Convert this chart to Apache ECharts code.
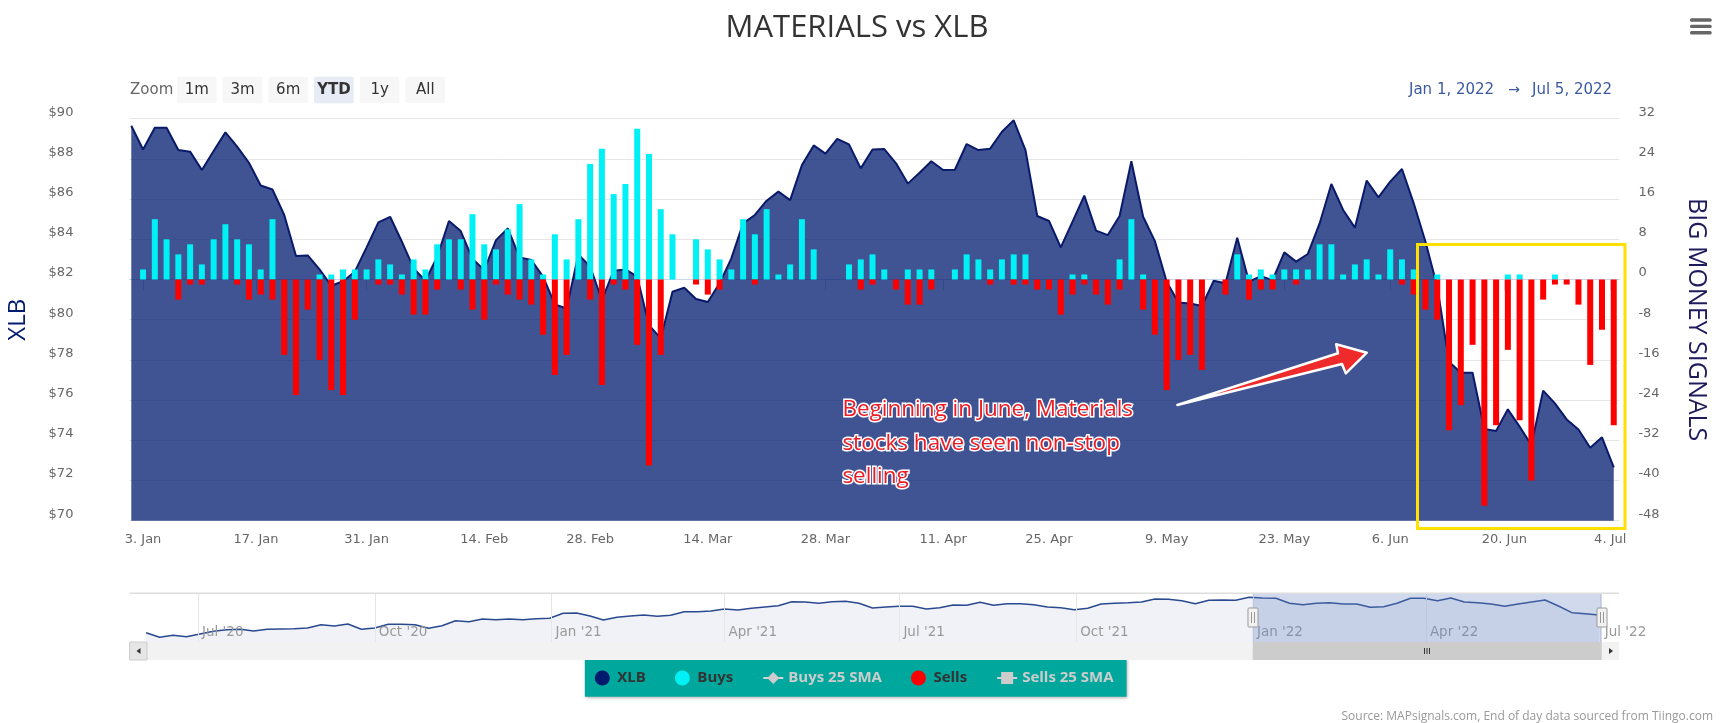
<!doctype html>
<html>
<head>
<meta charset="utf-8">
<title>MATERIALS vs XLB</title>
<script src="https://cdn.jsdelivr.net/npm/echarts@6/dist/echarts.min.js"></script>
<style>html,body{margin:0;padding:0;background:#fff}</style>
</head>
<body>
<div id="main" style="width:1720px;height:723px;"></div>
<script>
// trading day 0 is Dec 31, the last one is Jul 5
var xlb = [
  89.65,88.47,89.55,89.55,88.44,88.36,87.45,88.39,89.32,88.61,
  87.81,86.68,86.48,85.21,83.17,83.20,82.50,81.69,81.91,82.39,
  83.60,84.84,85.12,83.88,82.55,81.94,83.13,84.91,84.41,83.02,
  82.47,83.96,84.54,83.10,82.97,82.14,80.76,80.56,83.25,82.64,
  80.98,82.44,82.50,82.14,79.73,79.07,81.39,81.59,81.03,80.88,
  81.81,83.05,84.79,85.21,85.92,86.37,85.95,87.69,88.67,88.26,
  89.00,88.72,87.53,88.47,88.49,87.78,86.77,87.31,87.88,87.45,
  87.46,88.74,88.44,88.51,89.35,89.92,88.44,85.16,84.91,83.60,
  84.88,86.17,84.43,84.21,85.16,87.89,85.12,83.91,81.89,80.85,
  80.81,80.68,81.94,81.81,84.08,81.89,82.17,81.97,83.35,82.89,
  83.27,84.79,86.75,85.46,84.58,86.92,86.09,86.87,87.50,85.79,
  83.88,81.64,77.91,77.36,77.36,74.56,74.46,75.54,74.68,73.77,
  76.47,75.84,75.04,74.54,73.63,74.15,72.65
];
var buys = [
  0,2,12,8,5,7,3,8,11,8,
  7,2,12,0,0,0,1,1,2,2,
  2,4,3,1,4,2,7,8,8,13,
  7,6,10,15,4,1,9,4,12,23,
  26,17,19,30,25,14,9,0,8,6,
  4,2,12,9,14,1,3,12,6,0,
  0,3,4,5,2,0,2,2,2,0,
  2,5,4,2,4,5,5,0,0,0,
  1,1,0,0,4,12,1,0,0,0,
  0,0,0,0,5,1,2,1,2,2,
  2,7,7,1,3,4,1,6,4,2,
  0,1,0,0,0,0,0,1,1,0,
  0,1,0,0,0,0,0
];
var sells = [
  0,0,0,0,-4,-1,-1,0,0,-1,
  -4,-3,-4,-15,-23,-6,-16,-22,-23,-8,
  0,-1,-1,-3,-7,-7,-2,0,-2,-6,
  -8,-1,-3,-4,-5,-11,-19,-15,0,-4,
  -21,-1,-2,-13,-37,-15,0,0,-1,-3,
  -2,0,0,-1,0,0,0,0,0,0,
  0,0,-2,-1,0,-2,-5,-5,-2,0,
  0,0,0,-1,0,-1,-1,-2,-2,-7,
  -3,-1,-3,-5,-2,0,-6,-11,-22,-16,
  -15,-18,0,-3,0,-4,-2,-2,0,-1,
  0,0,0,0,0,0,0,0,-1,-3,
  -6,-8,-30,-25,-13,-45,-29,-14,-28,-40,
  -4,-1,-1,-5,-17,-10,-29
];
var xTickDays = [1,10.6,20,30,39,49,59,69,78,88,98,107,116.7,125.7];
var xTickLabels = ['3. Jan','17. Jan','31. Jan','14. Feb','28. Feb','14. Mar','28. Mar','11. Apr','25. Apr','9. May','23. May','6. Jun','20. Jun','4. Jul'];

// navigator: one reading a week from Jun 4 2020
var navPrices = [
  54.3,49.7,51.7,50.3,53.0,55.7,57.3,57.7,56.0,57.7,
  58.0,58.3,59.0,62.3,61.0,63.0,57.7,59.0,62.7,62.7,
  62.3,58.7,61.3,66.3,65.3,68.0,67.3,68.0,67.3,68.3,
  68.7,73.7,74.0,71.0,67.0,69.7,71.0,72.0,70.7,71.7,
  75.3,75.3,76.0,78.0,77.0,78.7,80.0,81.3,85.3,85.0,
  83.7,85.3,85.7,83.7,79.0,80.0,80.7,80.7,78.0,79.3,
  82.0,81.7,84.7,81.7,83.3,83.3,82.3,80.0,79.3,77.3,
  78.7,83.0,83.7,84.3,85.0,88.0,87.7,86.3,83.3,86.7,
  87.0,86.7,89.7,89.0,88.7,83.7,82.3,83.7,84.3,83.0,
  83.0,79.7,80.3,83.7,88.7,88.7,86.3,89.0,85.0,84.3,
  83.0,80.7,83.0,85.0,87.0,81.0,74.3,73.3,72.0
];
var navTickDates = ['2020-07-01','2020-10-01','2021-01-01','2021-04-01','2021-07-01','2021-10-01','2022-01-01','2022-04-01','2022-07-01'];
var navTickLabels = ["Jul '20","Oct '20","Jan '21","Apr '21","Jul '21","Oct '21","Jan '22","Apr '22","Jul '22"];
var rangeButtons = ['1m','3m','6m','YTD','1y','All'];

var FONT = 'DejaVu Sans';
var NAVY = '#001a6e';

var pricePoints = xlb.map(function (v, i) { return [i, v]; });
var buyPoints = buys.map(function (v, i) { return [i, v]; });
var sellPoints = sells.map(function (v, i) { return [i, v]; });

// navigator x axis counts days from its first reading
var navStart = Date.UTC(2020, 5, 4);
function navDay(d) { return (Date.parse(d + 'T00:00:00Z') - navStart) / 86400000; }
var navPoints = navPrices.map(function (v, i) { return [i * 7, v]; });
var navTicks = navTickDates.map(navDay);

function box(x, y, w, h, fill, extra) {
  var el = { type: 'rect', z: 50, shape: { x: x, y: y, width: w, height: h, r: extra && extra.r || 0 }, style: { fill: fill, stroke: extra && extra.stroke, lineWidth: extra && extra.lineWidth }, silent: true };
  return el;
}
function label(x, y, str, font, color, align) {
  return { type: 'text', z: 60, x: x, y: y, silent: true, style: { text: str, font: font, fill: color, textAlign: align || 'left', textVerticalAlign: 'middle' } };
}
function seg(x1, y1, x2, y2, color, w) {
  return { type: 'line', z: 60, silent: true, shape: { x1: x1, y1: y1, x2: x2, y2: y2 }, style: { stroke: color, lineWidth: w || 1 } };
}

var graphics = [];
// zoom buttons
graphics.push(label(130, 90, 'Zoom', '15px ' + FONT, '#666'));
rangeButtons.forEach(function (b, i) {
  var x = 177 + i * 45.7;
  var on = b === 'YTD';
  graphics.push(box(x, 76.7, 39.6, 26.6, on ? '#e6ebf5' : '#f7f7f7', { r: 2 }));
  graphics.push(label(x + 19.8, 90, b, (on ? 'bold ' : '') + '15px ' + FONT, '#333', 'center'));
});
// date range
graphics.push(label(1409, 90, 'Jan 1, 2022', '15px ' + FONT, '#3a5a9f'));
graphics.push(label(1514, 90, '\u2192', '14px ' + FONT, '#3a5a9f', 'center'));
graphics.push(label(1532, 90, 'Jul 5, 2022', '15px ' + FONT, '#3a5a9f'));
// menu icon
[20, 26.4, 32.7].forEach(function (y) {
  graphics.push(box(1690, y - 1.7, 21.7, 3.4, '#666', { r: 1.5 }));
});
// callout
graphics.push(box(1417.5, 244.5, 207.5, 284, 'none', { stroke: '#ffe000', lineWidth: 3 }));
graphics.push({
  type: 'polygon', z: 60, silent: true,
  shape: { points: [[1177.4, 405], [1338, 353.3], [1336.2, 344.3], [1366.8, 352.7], [1345.8, 373.3], [1342, 364]] },
  style: { fill: '#ee2a2a', stroke: '#fff', lineWidth: 2.5, lineJoin: 'round' }
});
['Beginning in June, Materials', 'stocks have seen non-stop', 'selling'].forEach(function (t, i) {
  graphics.push({
    type: 'text', z: 60, x: 842.4, y: 410 + i * 33.4, silent: true,
    style: { text: t, font: '22.5px "Open Sans"', fill: '#ed1c24', stroke: '#fff', lineWidth: 3, strokeFirst: true, textVerticalAlign: 'middle' }
  });
});
// navigator frame, selection and scrollbar
graphics.push(seg(129.6, 593.3, 1619, 593.3, '#dedede', 1.5));
graphics.push(box(1252.7, 594, 349.3, 48, 'rgba(102,133,194,0.3)'));
graphics.push(box(129.6, 642, 1489.4, 18, '#f2f2f2'));
graphics.push(box(129.6, 642, 17.4, 18, '#e6e6e6', { stroke: '#ccc', lineWidth: 1 }));
graphics.push({ type: 'polygon', z: 60, silent: true, shape: { points: [[140.5, 648], [140.5, 654], [136.5, 651]] }, style: { fill: '#333' } });
graphics.push(box(1252.7, 642, 349, 18, '#cccccc'));
graphics.push({ type: 'polygon', z: 60, silent: true, shape: { points: [[1609, 648], [1609, 654], [1613, 651]] }, style: { fill: '#333' } });
[1424.5, 1427, 1429.5].forEach(function (x) { graphics.push(seg(x, 648, x, 654, '#333', 1)); });
// navigator handles
[1253, 1602].forEach(function (x) {
  graphics.push(box(x - 5, 608, 10, 19, '#f2f2f2', { stroke: '#999', lineWidth: 1, r: 1 }));
  graphics.push(seg(x - 1.5, 612, x - 1.5, 623, '#999', 1));
  graphics.push(seg(x + 1.5, 612, x + 1.5, 623, '#999', 1));
});
// credit
graphics.push(label(1713, 717, 'Source: MAPsignals.com, End of day data sourced from Tiingo.com', '12px "Open Sans"', '#999', 'right'));

var myChart = echarts.init(document.getElementById('main'), null, { renderer: 'canvas' });

var option = {
  animation: false,
  backgroundColor: '#fff',
  title: {
    text: 'MATERIALS vs XLB',
    left: 852, top: 8, textAlign: 'center',
    textStyle: { fontFamily: 'Open Sans', fontSize: 31, fontWeight: 'normal', color: '#333' }
  },
  legend: {
    left: 584.8, top: 659.3,
    padding: [11.2, 13, 11.2, 10],
    backgroundColor: '#00a79d',
    shadowColor: 'rgba(0,0,0,0.3)', shadowBlur: 3, shadowOffsetX: 1, shadowOffsetY: 1,
    itemWidth: 20, itemHeight: 15, itemGap: 29,
    inactiveColor: '#ccc',
    textStyle: { fontFamily: 'Open Sans', fontSize: 15, fontWeight: 'bold', color: '#333' },
    selected: { 'Buys 25 SMA': false, 'Sells 25 SMA': false },
    data: [
      { name: 'XLB', icon: 'circle', itemStyle: { color: NAVY } },
      { name: 'Buys', icon: 'circle' },
      { name: 'Buys 25 SMA' },
      { name: 'Sells', icon: 'circle' },
      { name: 'Sells 25 SMA' }
    ]
  },
  graphic: { elements: graphics },
  grid: [
    { left: 129.4, top: 118.7, width: 1490, height: 402, outerBoundsMode: 'none' },
    { left: 129.6, top: 593.3, width: 1489.4, height: 48.7, outerBoundsMode: 'none' }
  ],
  xAxis: [
    {
      type: 'value', gridIndex: 0, min: -0.16, max: 126.48, containShape: false,
      splitLine: { show: false },
      axisLine: { lineStyle: { color: '#ccd6eb' } },
      axisTick: { customValues: xTickDays, length: 11, lineStyle: { color: '#ccd6eb' } },
      axisLabel: {
        customValues: xTickDays, margin: 12, hideOverlap: false,
        fontFamily: FONT, fontSize: 13, color: '#666',
        formatter: function (v) { return xTickLabels[xTickDays.indexOf(v)]; }
      }
    },
    {
      type: 'value', gridIndex: 1, z: 5,
      min: -8.6, max: 766.5,
      splitLine: { show: false },
      axisLine: { show: false },
      axisTick: { customValues: navTicks, inside: true, length: 48.7, lineStyle: { color: '#e6e6e6' } },
      axisLabel: {
        customValues: navTicks, inside: true, margin: 3, hideOverlap: false,
        align: 'left', padding: [0, 0, 0, 4],
        fontFamily: FONT, fontSize: 13.5, color: '#999',
        formatter: function (v) { return navTickLabels[navTicks.indexOf(v)]; }
      }
    }
  ],
  yAxis: [
    {
      type: 'value', gridIndex: 0, min: 70, max: 90, interval: 2, position: 'left',
      name: 'XLB', nameLocation: 'middle', nameRotate: 90, nameGap: 99,
      nameTextStyle: { fontFamily: 'Open Sans', fontSize: 24, color: NAVY },
      axisLine: { show: false, onZero: false }, axisTick: { show: false },
      splitLine: { lineStyle: { color: '#e6e6e6', width: 1 } },
      axisLabel: {
        margin: 56, verticalAlign: 'bottom',
        fontFamily: FONT, fontSize: 13, color: '#666',
        formatter: '${value}'
      }
    },
    {
      type: 'value', gridIndex: 0, min: -48, max: 32, interval: 8, position: 'right',
      name: 'BIG MONEY SIGNALS', nameLocation: 'middle', nameRotate: -90, nameGap: 64,
      nameTextStyle: { fontFamily: 'Open Sans', fontSize: 25, color: '#1e1b5c' },
      axisLine: { show: false, onZero: false }, axisTick: { show: false },
      splitLine: { show: false },
      axisLabel: {
        margin: 19, verticalAlign: 'bottom',
        fontFamily: FONT, fontSize: 13, color: '#666'
      }
    },
    { type: 'value', gridIndex: 1, min: 45, max: 93.7, show: false }
  ],
  series: [
    {
      name: 'XLB', type: 'line', xAxisIndex: 0, yAxisIndex: 0, z: 1,
      data: pricePoints, symbol: 'none',
      lineStyle: { color: '#0a1a6a', width: 2 },
      areaStyle: { color: 'rgb(0,26,110)', opacity: 0.75, origin: 'start' },
      itemStyle: { color: NAVY }
    },
    {
      name: 'Buys', type: 'bar', xAxisIndex: 0, yAxisIndex: 1, z: 3,
      data: buyPoints, barWidth: 6, barGap: '-100%',
      itemStyle: { color: '#00f1f5' }
    },
    {
      name: 'Sells', type: 'bar', xAxisIndex: 0, yAxisIndex: 1, z: 3,
      data: sellPoints, barWidth: 6, barGap: '-100%',
      itemStyle: { color: '#ff0000' }
    },
    {
      name: 'Buys 25 SMA', type: 'line', xAxisIndex: 0, yAxisIndex: 1,
      data: [], symbol: 'diamond', symbolSize: 9,
      itemStyle: { color: '#ccc' }, lineStyle: { color: '#ccc', width: 2 }
    },
    {
      name: 'Sells 25 SMA', type: 'line', xAxisIndex: 0, yAxisIndex: 1,
      data: [], symbol: 'rect', symbolSize: 9,
      itemStyle: { color: '#ccc' }, lineStyle: { color: '#ccc', width: 2 }
    },
    {
      name: 'Navigator', type: 'line', xAxisIndex: 1, yAxisIndex: 2, z: 1,
      data: navPoints, symbol: 'none',
      lineStyle: { color: '#2a4a90', width: 1.5 },
      areaStyle: { color: '#f0f2f8', opacity: 1, origin: 'start' }
    }
  ]
};

myChart.setOption(option);
</script>
</body>
</html>
